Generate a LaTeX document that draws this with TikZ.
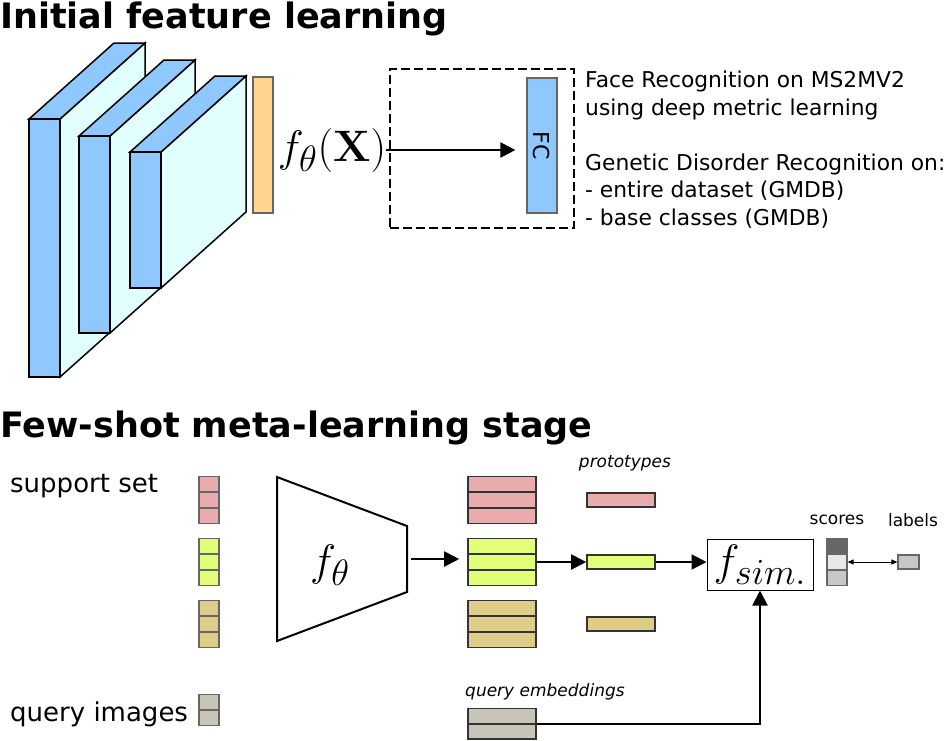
\documentclass[tikz,border=0pt]{standalone}
\usepackage[no-math]{fontspec}
\usepackage{graphicx}
\setmainfont{DejaVu Sans}
\usetikzlibrary{arrows.meta, positioning, calc}
\definecolor{LayerBlau}{RGB}{143,200,255}
\definecolor{LayerCyan}{RGB}{226,255,255}
\definecolor{FeatOrange}{RGB}{255,214,140}
\definecolor{ClassRot}{RGB}{232,172,172}
\definecolor{ClassGruen}{RGB}{226,255,122}
\definecolor{ClassBraun}{RGB}{222,205,136}
\definecolor{QueryGrau}{RGB}{200,197,184}
\definecolor{RandGrau}{gray}{0.4}
\newcommand{\bigmath}[1]{{\Huge\scalebox{1.77}{$#1$}}}

\begin{document}
\begin{tikzpicture}[x=1pt, y=-1pt, >={Triangle[length=15pt, width=15pt]},
    sup/.style={draw=RandGrau, line width=1.2pt, inner sep=0, minimum width=20, minimum height=15},
    emb/.style={draw=black!80, line width=1.6pt, inner sep=0, minimum width=68, minimum height=15},
    lbl/.style={font=\fontsize{17}{20}\selectfont\itshape}]
\useasboundingbox (0,0) rectangle (948,740);
\node[anchor=base west, inner sep=0, font=\fontsize{35}{40}\selectfont\bfseries] (t1) at (0,28) {Initial feature learning};
\node[anchor=base west, inner sep=0, font=\fontsize{35}{40}\selectfont\bfseries] (t2) at (0,437) {Few-shot meta-learning stage};
\foreach \x/\y/\h in {29/119/258, 79/136/197, 130/152/136}
{
    \draw[line width=1.5pt, fill=LayerCyan] (\x+31,\y) -- ++(85,-76) -- ++(0,\h) -- (\x+31,\y+\h) -- cycle;
    \draw[line width=1.5pt, fill=LayerBlau] (\x,\y) -- ++(85,-76) -- ++(31,0) -- (\x+31,\y) -- cycle;
    \draw[line width=1.5pt, fill=LayerBlau] (\x,\y) rectangle ++(31,\h);
}
\node[draw=RandGrau, line width=1.2pt, fill=FeatOrange, inner sep=0, minimum width=20, minimum height=136] (feat) at (263,145) {};
\node[inner sep=0] (fx) at (332,150) {\bigmath{f_\theta(\mathbf{X})}};
\node[draw, line width=2pt, dash pattern=on 9pt off 4pt, minimum width=184, minimum height=159] (head) at (482,148.5) {};
\node[draw=RandGrau, line width=1.2pt, fill=LayerBlau, inner sep=0, minimum width=135, minimum height=30, rotate=-90, font=\fontsize{22}{24}\selectfont] (fc) at (542,145.5) {FC};
\draw[->, line width=2pt, shorten >=11pt] (fx.east) -- (fx.east -| fc.south);
\node[anchor=north west, align=left, inner sep=0, font=\fontsize{21.8}{27.5}\selectfont] (tasks) at (585,71) {Face Recognition on MS2MV2\\using deep metric learning\\[27.5pt]Genetic Disorder Recognition on:\\- entire dataset (GMDB)\\- base classes (GMDB)};
\node[anchor=west, inner sep=0, font=\fontsize{26}{30}\selectfont] (sset) at (10,486) {support set};
\node[anchor=west, inner sep=0, font=\fontsize{26}{30}\selectfont] (qimg) at (10,714) {query images};
\draw[line width=2pt] (277,477) -- (407,526) -- (407,592) -- (277,641) -- cycle;
\node[inner sep=0] (enc) at (330,565) {\bigmath{f_\theta}};
\coordinate (encout) at (411,559);
\foreach \n/\c/\y in {r/ClassRot/484, g/ClassGruen/546, b/ClassBraun/608}
{
    \foreach \i in {1,2,3}
    {
        \node[sup, fill=\c] (s\n\i) at (209,\y+16*\i-16) {};
        \node[emb, fill=\c] (e\n\i) at (502,\y+16*\i-16) {};
    }
    \node[emb, minimum height=14, fill=\c] (p\n) at (621,\y+16) {};
}
\node[sup, fill=QueryGrau] (sq1) at (209,702) {};
\node[sup, fill=QueryGrau] (sq2) at (209,718) {};
\node[emb, fill=QueryGrau] (eq1) at (502,716) {};
\node[emb, fill=QueryGrau] (eq2) at (502,731.5) {};
\node[draw, line width=1pt, minimum width=106, minimum height=51, inner sep=0] (fsim) at (760,564.5) {\bigmath{f_{sim.}}};
\draw[->, line width=2pt, shorten >=8pt] (encout) -- (encout -| eg2.west);
\draw[->, line width=2pt] (eg2.east) -- (pg.west);
\draw[->, line width=2pt] (pg.east) -- (pg.east -| fsim.west);
\draw[->, line width=2pt] (eq1.south east) -| (fsim.south);
\foreach \i/\c in {1/black!60, 2/black!9, 3/black!22}
    \node[sup, fill=\c] (sc\i) at (837,530+16*\i) {};
\node[sup, minimum width=21, minimum height=14, fill=black!22] (lab) at (908.5,562) {};
\draw[{Triangle[length=6pt, width=5pt]}-{Triangle[length=6pt, width=5pt]}, line width=1pt] (sc2.east) -- (lab.west);
\node[font=\fontsize{17}{20}\selectfont] (scl) at (837,520) {scores};
\node[font=\fontsize{17}{20}\selectfont] (labl) at (913,520) {labels};
\node[lbl] (protl) at (625,463) {prototypes};
\node[lbl, anchor=west, inner sep=0] (qel) at (465,692) {query embeddings};
\end{tikzpicture}
\end{document}
